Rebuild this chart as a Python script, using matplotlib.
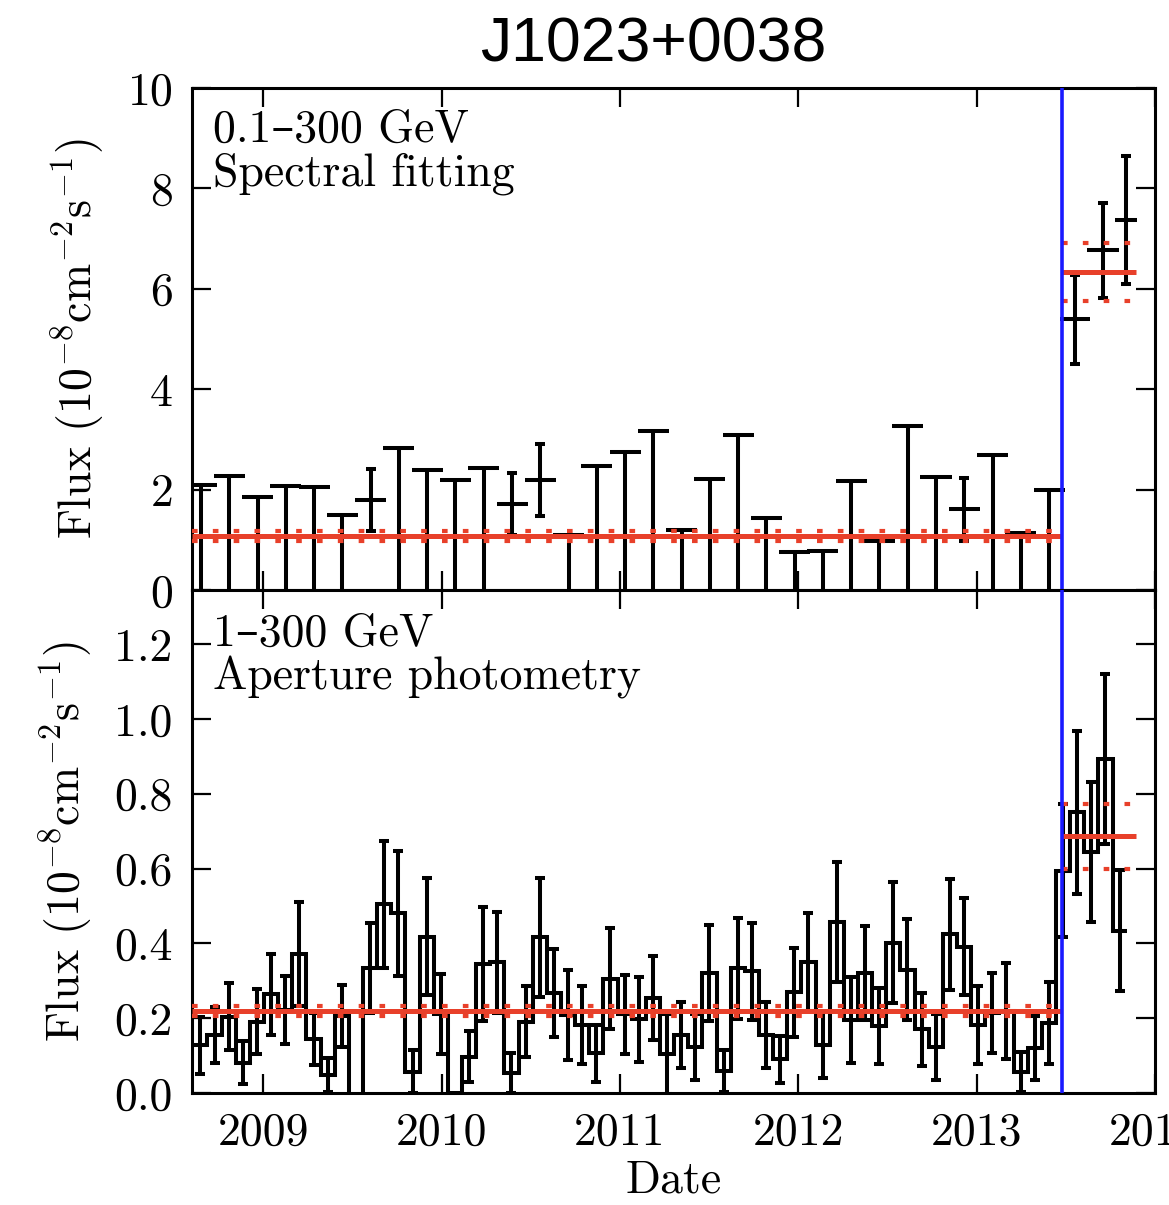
import matplotlib.pyplot as plt
import numpy as np

# ---- data ----
# top panel: 0.1-300 GeV spectral fitting, regular bins before the transition
top_start = 2008.651
top_width = 0.1585
top_flux = [2.10, 2.28, 1.85, 2.08, 2.05, 1.50, 1.80, 2.82, 2.40, 2.20,
            2.44, 1.71, 2.19, 1.10, 2.47, 2.75, 3.17, 1.20, 2.21, 3.09,
            1.43, 0.76, 0.78, 2.18, 0.98, 3.27, 2.26, 1.61, 2.69, 1.13, 1.99]
# nan -> 95% upper limit
top_err = [np.nan, np.nan, np.nan, np.nan, np.nan, np.nan, 0.62, np.nan, np.nan, np.nan,
           np.nan, 0.62, 0.72, np.nan, np.nan, np.nan, np.nan, np.nan, np.nan, np.nan,
           np.nan, np.nan, np.nan, np.nan, np.nan, np.nan, np.nan, 0.63, np.nan, np.nan, np.nan]

# top panel after the transition
post_date = [2013.551, 2013.708, 2013.835]
post_flux = [5.39, 6.77, 7.38]
post_err = [0.885, 0.945, 1.275]
post_xerr = [0.085, 0.09, 0.062]

# bottom panel: 1-300 GeV aperture photometry, ~monthly bins
bot_start = 2008.647
bot_width = 0.0793
bot_flux = [0.128, 0.155, 0.204, 0.081, 0.190, 0.264, 0.222, 0.372, 0.145, 0.048,
            0.206, -0.060, 0.335, 0.505, 0.480, 0.057, 0.418, 0.212, -0.050, 0.097,
            0.345, 0.350, 0.053, 0.190, 0.416, 0.268, 0.208, 0.182, 0.106, 0.306,
            0.210, 0.197, 0.253, 0.105, 0.155, 0.124, 0.320, 0.058, 0.333, 0.325,
            0.155, 0.090, 0.269, 0.350, 0.128, 0.458, 0.195, 0.320, 0.180, 0.402,
            0.330, 0.170, 0.124, 0.424, 0.391, 0.182, 0.213, 0.220, 0.056, 0.121,
            0.188, 0.594, 0.751, 0.645, 0.894, 0.434]
bot_err = [0.076, 0.076, 0.090, 0.057, 0.087, 0.108, 0.091, 0.140, 0.070, 0.045,
           0.083, 0.050, 0.120, 0.170, 0.168, 0.058, 0.156, 0.107, 0.050, 0.068,
           0.152, 0.135, 0.053, 0.095, 0.158, 0.118, 0.120, 0.105, 0.076, 0.134,
           0.105, 0.114, 0.112, 0.107, 0.088, 0.088, 0.128, 0.056, 0.136, 0.130,
           0.088, 0.062, 0.120, 0.131, 0.089, 0.160, 0.114, 0.126, 0.102, 0.162,
           0.136, 0.097, 0.088, 0.148, 0.130, 0.105, 0.107, 0.128, 0.054, 0.085,
           0.110, 0.178, 0.218, 0.187, 0.227, 0.162]

transition = 2013.476
post_end = 2013.896
top_mean = (1.08, 0.10)
top_mean_post = (6.33, 0.58)
bot_mean = (0.22, 0.013)
bot_mean_post = (0.686, 0.087)

xmin, xmax = 2008.6, 2014.0
years = [2009, 2010, 2011, 2012, 2013, 2014]

# ---- style ----
plt.rcParams['font.family'] = ['cmr10', 'DejaVu Serif']
plt.rcParams['mathtext.fontset'] = 'cm'
plt.rcParams['axes.formatter.use_mathtext'] = True
plt.rcParams['font.size'] = 33
plt.rcParams['axes.linewidth'] = 2.2

RED = '#e8402a'
BLUE = '#1a1aff'
LW = 2.9

fig = plt.figure(figsize=(11.69, 12.05), dpi=100)
ax1 = fig.add_axes([0.16424, 0.51037, 0.82378, 0.41660])
ax2 = fig.add_axes([0.16424, 0.09295, 0.82378, 0.41743])


def mean_lines(ax, x0, x1, m):
    ax.hlines(m[0], x0, x1, color=RED, lw=3.6, zorder=4)
    for v in (m[0] - m[1], m[0] + m[1]):
        ax.hlines(v, x0, x1, color=RED, lw=3.0, linestyles=[(0, (1.35, 3.65))], zorder=4)


# top panel
top_flux = np.array(top_flux)
top_err = np.array(top_err)
top_x = top_start + top_width * np.arange(len(top_flux))
ul = np.isnan(top_err)
ax1.vlines(top_x[ul], 0, top_flux[ul], color='k', lw=LW)
ax1.errorbar(top_x, top_flux, xerr=0.087, fmt='none', ecolor='k', elinewidth=LW)
ax1.errorbar(top_x[~ul], top_flux[~ul], yerr=top_err[~ul], fmt='none', ecolor='k',
             elinewidth=LW, capsize=3.6, capthick=LW)
ax1.errorbar(post_date, post_flux, xerr=post_xerr, fmt='none', ecolor='k', elinewidth=LW)
ax1.errorbar(post_date, post_flux, yerr=post_err, fmt='none', ecolor='k',
             elinewidth=LW, capsize=3.6, capthick=LW)
mean_lines(ax1, xmin, transition, top_mean)
mean_lines(ax1, transition, post_end, top_mean_post)
ax1.set_ylim(0, 10)
ax1.set_yticks([0, 2, 4, 6, 8, 10])
ax1.text(0.022, 0.957, '0.1\u2013300 GeV\nSpectral fitting', transform=ax1.transAxes,
         ha='left', va='top', linespacing=1.05)
ax1.set_ylabel(r'Flux $(10^{-8}\mathrm{cm}^{-2}\mathrm{s}^{-1})$', labelpad=14)

# bottom panel
bot_flux = np.array(bot_flux)
bot_x = bot_start + bot_width * np.arange(len(bot_flux))
bot_edges = np.append(bot_x - bot_width / 2, bot_x[-1] + bot_width / 2)
ax2.stairs(bot_flux, bot_edges, baseline=None, color='k', lw=LW)
ax2.errorbar(bot_x, bot_flux, yerr=bot_err, fmt='none', ecolor='k', elinewidth=LW,
             capsize=3.6, capthick=LW)
mean_lines(ax2, xmin, transition, bot_mean)
mean_lines(ax2, transition, post_end, bot_mean_post)
ax2.set_ylim(0, 1.345)
ax2.set_yticks([0.0, 0.2, 0.4, 0.6, 0.8, 1.0, 1.2])
ax2.set_yticklabels(['0.0', '0.2', '0.4', '0.6', '0.8', '1.0', '1.2'])
ax2.text(0.022, 0.955, '1\u2013300 GeV\nAperture photometry', transform=ax2.transAxes,
         ha='left', va='top', linespacing=1.05)
ax2.set_ylabel(r'Flux $(10^{-8}\mathrm{cm}^{-2}\mathrm{s}^{-1})$', labelpad=14)
ax2.set_xlabel('Date', labelpad=4)

for ax in (ax1, ax2):
    ax.axvline(transition, color=BLUE, lw=2.6, zorder=5)
    ax.set_xlim(xmin, xmax)
    ax.set_xticks(years)
    ax.tick_params(direction='in', length=14, width=1.6, top=True, right=True, pad=14)

ax2.set_xticklabels([str(y) for y in years])
ax1.tick_params(labelbottom=False)

fig.text(0.559, 0.963, 'J1023+0038', ha='center', va='center',
         family='Liberation Sans', fontsize=45)

fig.savefig('out.png', dpi=100)
